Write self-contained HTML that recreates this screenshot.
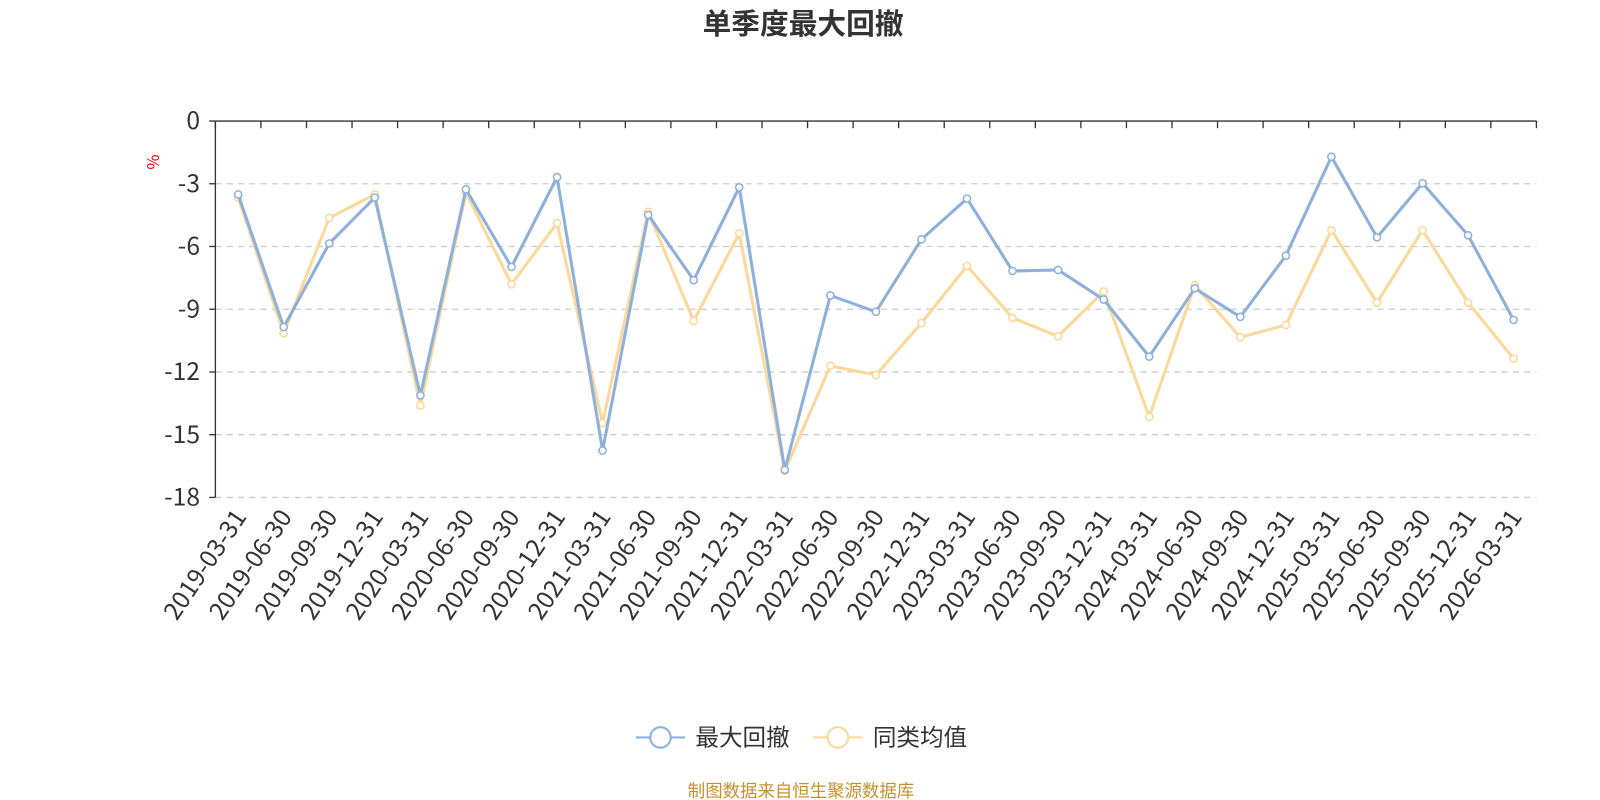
<!DOCTYPE html>
<html><head><meta charset="utf-8"><style>body{margin:0;background:#fff}svg{display:block}text{font-family:"Noto Sans CJK SC","Liberation Sans",sans-serif}</style></head>
<body>
<svg width="1600" height="800" viewBox="0 0 1560 780" xmlns="http://www.w3.org/2000/svg">
<text x="783" y="33" text-anchor="middle" font-size="28" font-weight="bold" fill="#333">单季度最大回撤</text>
<text x="155" y="158" font-size="16" fill="#e00" transform="rotate(-90 155 158)" text-anchor="middle">%</text>
<g id="grid" stroke="#ccc" stroke-dasharray="6,5" stroke-width="1.3"></g>
<g id="axes" stroke="#333" stroke-width="1.3" fill="none"></g>
<g id="ylab" font-size="24" fill="#333" text-anchor="end"></g>
<g id="xlab" font-size="24" fill="#333" text-anchor="end"></g>
<g id="s2"></g><g id="s1"></g>
<g>
<line x1="620" y1="719" x2="668" y2="719" stroke="#8eb0db" stroke-width="2"/><circle cx="644" cy="719" r="10" fill="#fff" stroke="#8eb0db" stroke-width="2"/>
<text x="678" y="727" font-size="23" fill="#333">最大回撤</text>
<line x1="793" y1="719" x2="841" y2="719" stroke="#fcd99b" stroke-width="2"/><circle cx="817" cy="719" r="10" fill="#fff" stroke="#fcd99b" stroke-width="2"/>
<text x="851" y="727" font-size="23" fill="#333">同类均值</text>
</g>
<text x="781" y="777" text-anchor="middle" font-size="17" fill="#c8902a">制图数据来自恒生聚源数据库</text>
</svg>
<script>
const ns="http://www.w3.org/2000/svg";
function el(p,t,a,txt){const e=document.createElementNS(ns,t);for(const k in a)e.setAttribute(k,a[k]);if(txt!==undefined)e.textContent=txt;document.getElementById(p).appendChild(e);}
const x0=210,x1=1498,y0=118,y1=485,n=29,bw=(x1-x0)/n;
const sy=v=>118+(v-118)*(y1-y0)/369;
for(let i=1;i<=6;i++){const y=y0+i*(y1-y0)/6;el("grid","line",{x1:x0,x2:x1,y1:y,y2:y});}
el("axes","line",{x1:x0,x2:x1,y1:y0,y2:y0});
el("axes","line",{x1:x0,x2:x0,y1:y0,y2:y1});
for(let i=0;i<=6;i++){const y=y0+i*(y1-y0)/6;el("axes","line",{x1:x0-6,x2:x0,y1:y,y2:y});el("ylab","text",{x:x0-15,y:y+8},String(i==0?0:-3*i));}
for(let i=0;i<=n;i++){const x=x0+i*bw;el("axes","line",{x1:x,x2:x,y1:y0,y2:y0+7});}
const dates=[];for(let y=2019;y<=2026;y++)for(const q of["03-31","06-30","09-30","12-31"]){if(dates.length<n)dates.push(y+"-"+q);}
dates.forEach((d,i)=>{const x=x0+bw*(i+.5)+9,y=504;el("xlab","text",{x:x,y:y,transform:`rotate(-56 ${x} ${y})`},d);});
const a=[190,320,238,193,387,185,261,173,441,210,274,183,460,289,305,234,194,265,264,293,349,282,310,250,153,232,179,230,313];
const b=[193,326,213,190,397,188,278,218,414,207,314,228,461,358,367,316,260,311,329,285,408,279,330,318,225,296,225,296,351];
function ser(g,d,c){const pts=d.map((y,i)=>[x0+bw*(i+.5),sy(y)]);el(g,"polyline",{points:pts.map(p=>p.join(",")).join(" "),fill:"none",stroke:c,"stroke-width":3});pts.forEach(p=>el(g,"circle",{cx:p[0],cy:p[1],r:3.5,fill:"#fff",stroke:c,"stroke-width":1.5}));}
ser("s2",b,"#fcd99b");ser("s1",a,"#8eb0db");
</script>
</body></html>
